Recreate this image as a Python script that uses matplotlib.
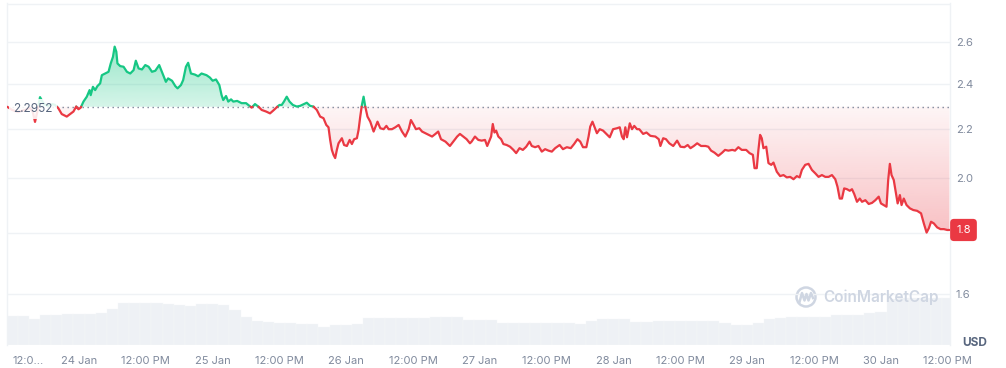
import numpy as np
import matplotlib
matplotlib.use("Agg")
import matplotlib.pyplot as plt
import matplotlib.transforms as mtransforms
import matplotlib.colors as mcolors
from matplotlib.path import Path
from matplotlib.patches import Circle
from matplotlib.lines import Line2D
from matplotlib.ticker import FixedLocator, NullLocator, NullFormatter, FixedFormatter

plt.rcParams['font.family'] = ['Inter', 'DejaVu Sans']

# ---- data: time in hours since 23 Jan 00:00, price in USD ----
hours = (
    [11.1, 12.0, 13.0, 14.3, 15.2, 15.7, 16.1, 16.5, 17.0, 17.7, 18.4, 19.2, 19.7]
    + [20.3, 20.9, 21.8, 22.4, 23.0, 23.5, 23.9, 24.3, 24.8, 25.4,
       25.9, 26.1, 26.5, 26.9, 27.3, 27.8, 28.1, 28.7, 29.3, 29.7,
       30.1, 30.4, 30.7, 30.9, 31.4, 32.0, 32.6, 33.2, 33.8, 34.2,
       34.7, 35.3, 35.9, 36.5, 37.1, 37.7, 38.4, 39.0, 39.6, 40.0]
    + [40.7, 41.3, 41.7, 42.3, 42.7, 43.2, 43.6, 44.1, 44.8, 45.4,
       46.0, 46.9, 47.5, 48.0, 48.6, 49.2, 49.6, 49.9, 50.4, 50.8,
       51.3, 51.7, 52.4, 53.2, 54.0, 54.4, 55.0, 55.6, 56.2, 56.8,
       57.6, 58.3, 59.0, 59.5, 60.0, 60.4, 60.8, 61.3, 61.8, 62.4,
       63.1, 63.7, 64.4, 64.9, 65.5, 66.1, 66.7, 67.3, 67.9, 68.4,
       68.8, 69.1, 69.4, 69.7, 70.0, 70.3, 70.6, 71.2, 71.6, 72.1,
       72.6, 73.0, 73.4, 73.9, 74.2, 74.5, 74.8, 75.1, 75.4, 75.8,
       76.3, 76.9, 77.6, 78.1, 78.7, 79.2, 79.6, 80.2, 80.8, 81.4,
       82.0, 82.6, 83.2, 83.6, 84.1, 84.5, 85.1, 85.6, 86.2, 86.8,
       87.4, 88.0, 88.5, 89.0, 89.8, 90.6, 91.2, 91.9, 92.4, 93.0,
       93.6, 94.2, 94.5, 95.1, 95.7, 96.3, 96.9, 97.3, 98.0, 98.3,
       98.6, 98.9, 99.3, 99.8, 100.2, 100.8, 101.4, 102.0, 102.5, 103.1,
       103.7, 104.3, 104.9, 105.3, 105.9, 106.5, 107.1, 107.7, 108.3, 108.9,
       109.5, 110.3, 110.9, 111.6, 112.3, 112.9, 113.5, 114.0, 114.5, 115.1,
       115.5, 115.8, 116.2, 116.6, 117.0, 117.5, 118.1, 118.7, 119.3, 119.9,
       120.6, 121.1, 121.5, 121.8, 122.1, 122.4, 122.9, 123.3, 123.7, 124.2,
       124.6, 125.3, 125.9, 126.6]
    + [127.5, 128.1, 128.4, 128.9, 129.4, 130.0, 130.7, 131.4, 132.0, 132.7,
       133.3, 133.8, 134.4, 135.0, 135.7, 136.5, 137.0, 137.5, 138.1, 138.8,
       139.5, 140.0, 140.6, 141.3, 141.8, 142.4, 143.0, 143.8, 144.4, 145.0,
       145.3, 145.7, 146.0, 146.3, 146.6, 146.9, 147.4, 147.8, 148.3, 148.7,
       149.3, 149.9, 150.5, 151.1, 151.7, 152.3, 152.9, 153.4, 153.8, 154.4,
       155.0, 155.6, 156.2, 156.8, 157.4, 158.0, 158.6, 159.2, 159.8, 160.2,
       160.6, 161.0, 161.4, 161.9, 162.4, 162.8, 163.2, 163.7, 164.2, 164.6,
       165.2, 165.8, 166.4, 167.0, 167.6, 168.0, 168.5, 169.0, 169.3, 169.6,
       169.9, 170.3, 170.7, 171.0, 171.4, 171.7, 172.1, 172.6, 173.2, 173.8,
       174.5, 175.2, 175.7, 176.2, 176.6, 177.0, 177.5, 178.1, 178.7, 179.3,
       179.9, 180.3]
)

price = (
    [2.295, 2.281, 2.272, 2.281, 2.290, 2.272, 2.229, 2.272, 2.338, 2.307, 2.299, 2.307, 2.303]
    + [2.288, 2.263, 2.252, 2.263, 2.274, 2.296, 2.284, 2.291, 2.318, 2.340,
       2.370, 2.347, 2.385, 2.370, 2.388, 2.401, 2.439, 2.447, 2.455, 2.495,
       2.527, 2.577, 2.552, 2.495, 2.482, 2.479, 2.455, 2.447, 2.463, 2.508,
       2.471, 2.466, 2.487, 2.479, 2.455, 2.460, 2.487, 2.447, 2.408, 2.424]
    + [2.413, 2.388, 2.378, 2.393, 2.416, 2.479, 2.498, 2.447, 2.442, 2.434,
       2.447, 2.439, 2.428, 2.413, 2.419, 2.393, 2.347, 2.325, 2.343, 2.318,
       2.328, 2.318, 2.321, 2.311, 2.311, 2.303, 2.291, 2.307, 2.296, 2.281,
       2.274, 2.266, 2.281, 2.293, 2.303, 2.303, 2.318, 2.340, 2.318, 2.303,
       2.296, 2.299, 2.307, 2.313, 2.299, 2.296, 2.281, 2.252, 2.245, 2.216,
       2.206, 2.153, 2.112, 2.092, 2.079, 2.112, 2.139, 2.160, 2.132, 2.128,
       2.153, 2.136, 2.156, 2.160, 2.195, 2.252, 2.303, 2.340, 2.296, 2.252,
       2.230, 2.188, 2.230, 2.202, 2.198, 2.212, 2.198, 2.198, 2.206, 2.216,
       2.188, 2.167, 2.198, 2.237, 2.216, 2.198, 2.202, 2.188, 2.181, 2.174,
       2.167, 2.178, 2.188, 2.156, 2.146, 2.128, 2.146, 2.167, 2.178, 2.167,
       2.156, 2.139, 2.146, 2.167, 2.153, 2.150, 2.153, 2.128, 2.167, 2.220,
       2.184, 2.192, 2.167, 2.156, 2.136, 2.132, 2.125, 2.112, 2.099, 2.119,
       2.112, 2.125, 2.146, 2.128, 2.123, 2.128, 2.105, 2.115, 2.109, 2.105,
       2.119, 2.132, 2.115, 2.123, 2.119, 2.136, 2.156, 2.146, 2.123, 2.123,
       2.167, 2.209, 2.230, 2.206, 2.181, 2.198, 2.192, 2.178, 2.164, 2.198,
       2.202, 2.206, 2.167, 2.156, 2.206, 2.164, 2.223, 2.198, 2.212, 2.198,
       2.198, 2.178, 2.184, 2.170]
    + [2.167, 2.156, 2.128, 2.160, 2.156, 2.139, 2.128, 2.150, 2.125, 2.123,
       2.132, 2.119, 2.128, 2.139, 2.128, 2.128, 2.125, 2.109, 2.101, 2.088,
       2.101, 2.112, 2.109, 2.112, 2.109, 2.123, 2.112, 2.112, 2.099, 2.092,
       2.039, 2.039, 2.112, 2.174, 2.160, 2.119, 2.125, 2.059, 2.052, 2.061,
       2.025, 2.008, 2.012, 2.003, 2.005, 1.996, 2.008, 2.003, 2.032, 2.052,
       2.056, 2.032, 2.019, 2.005, 2.012, 2.005, 2.005, 2.012, 1.996, 1.967,
       1.923, 1.923, 1.961, 1.958, 1.952, 1.958, 1.940, 1.911, 1.923, 1.911,
       1.917, 1.903, 1.907, 1.917, 1.930, 1.905, 1.899, 1.893, 1.993, 2.056,
       2.012, 1.993, 1.942, 1.905, 1.936, 1.899, 1.923, 1.899, 1.887, 1.881,
       1.878, 1.869, 1.833, 1.801, 1.816, 1.839, 1.833, 1.819, 1.813, 1.813,
       1.810, 1.810]
)

base_price = 2.2952
base_label = "2.2952"
last_label = "1.8"

# volume (relative units), one bar per 2 hours centred at these hours
vol_hours = list(range(12, 181, 2))
volume = [29, 29, 26, 30, 30, 31, 31, 31, 32, 36,
          42, 42, 42, 42, 41, 40, 39, 41, 41, 40,
          35, 28, 24, 23, 22, 22, 21, 21, 18, 20,
          20, 21, 27, 27, 27, 27, 27, 27, 28, 28,
          28, 25, 25, 25, 22, 22, 22, 22, 22, 22,
          22, 21, 24, 26, 26, 26, 23, 23, 24, 24,
          24, 24, 24, 24, 22, 20, 20, 22, 26, 27,
          28, 28, 28, 28, 30, 30, 30, 32, 33, 46,
          47, 47, 47, 47, 47]

xtick_hours = [12, 24, 36, 48, 60, 72, 84, 96, 108, 120, 132, 144, 156, 168, 180]
xtick_labels = ["12:0...", "24 Jan", "12:00 PM", "25 Jan", "12:00 PM", "26 Jan",
                "12:00 PM", "27 Jan", "12:00 PM", "28 Jan", "12:00 PM", "29 Jan",
                "12:00 PM", "30 Jan", "12:00 PM"]
ytick_values = [1.6, 1.8, 2.0, 2.2, 2.4, 2.6, 2.8]
ytick_labels = ["1.6", "", "2.0", "2.2", "2.4", "2.6", ""]

assert len(hours) == len(price)
assert len(vol_hours) == len(volume)

GREEN = "#16c784"
RED = "#ea3943"
GRID = "#eff2f5"
TICK = "#808a9d"

W, H = 1006, 368
fig = plt.figure(figsize=(W / 100, H / 100), dpi=100)
rect = [7 / W, 23 / H, 943 / W, 342 / H]
vax = fig.add_axes(rect, zorder=0)
ax = fig.add_axes(rect, zorder=1)
ax.patch.set_alpha(0)

xlim = (11.07, 180.4)
ylim = (1.4502, 2.803)

# volume bars
vax.bar(vol_hours, volume, width=2.0, color="#eef1f5", edgecolor="#f7f8fa", linewidth=0.25)
vax.set_xlim(xlim)
vax.set_ylim(0, max(volume) * 342 / 47)
vax.axis("off")

ax.set_yscale("log")
ax.set_xlim(xlim)
ax.set_ylim(ylim)
ax.set_autoscale_on(False)

# insert baseline crossings
t = np.asarray(hours, float)
p = np.asarray(price, float)
tt, pp = [t[0]], [p[0]]
for i in range(1, len(t)):
    a, b = p[i - 1] - base_price, p[i] - base_price
    if a * b < 0:
        f = a / (a - b)
        tt.append(t[i - 1] + f * (t[i] - t[i - 1]))
        pp.append(base_price)
    tt.append(t[i])
    pp.append(p[i])
tt = np.array(tt)
pp = np.array(pp)
up = np.where(pp >= base_price, pp, np.nan)
dn = np.where(pp <= base_price, pp, np.nan)

# gradient fills
lo, hi = np.log(ylim[0]), np.log(ylim[1])
def frac(v):
    return (np.log(v) - lo) / (hi - lo)
fb = frac(base_price)
fy = np.linspace(0, 1, 800)[:, None]
g_alpha = np.clip(0.18 + 0.25 * (fy - fb) / (frac(2.58) - fb), 0, 0.5)
r_alpha = np.clip(0.05 + 0.26 * (fb - fy) / (fb - frac(1.81)), 0, 0.5)

def grad_img(color, alpha):
    img = np.zeros((alpha.shape[0], 1, 4))
    img[..., :3] = mcolors.to_rgb(color)
    img[..., 3] = alpha
    return img

for mask, color, alpha in [(pp >= base_price, GREEN, g_alpha), (pp <= base_price, RED, r_alpha)]:
    coll = ax.fill_between(tt, pp, base_price, where=mask, lw=0, alpha=0)
    paths = coll.get_paths()
    coll.remove()
    if not paths:
        continue
    comp = Path.make_compound_path(*paths)
    im = ax.imshow(grad_img(color, alpha), extent=[0, 1, 0, 1], transform=ax.transAxes,
                   origin="lower", aspect="auto", interpolation="bilinear", zorder=1)
    im.set_clip_path(comp, ax.transData)

ax.set_xlim(xlim)
ax.set_ylim(ylim)

ax.plot(tt, up, color=GREEN, lw=1.6, zorder=3, solid_joinstyle="round", solid_capstyle="round")
ax.plot(tt, dn, color=RED, lw=1.6, zorder=3, solid_joinstyle="round", solid_capstyle="round")
ax.axhline(base_price, color="#7d879a", lw=1.0, ls=(0, (1, 2.6)), zorder=2)

# axes styling
ax.yaxis.set_major_locator(FixedLocator(ytick_values))
ax.yaxis.set_major_formatter(FixedFormatter(ytick_labels))
ax.yaxis.set_minor_locator(NullLocator())
ax.yaxis.set_minor_formatter(NullFormatter())
ax.yaxis.tick_right()
ax.grid(axis="y", color=GRID, lw=1)
ax.set_axisbelow(True)
ax.tick_params(axis="y", length=0, pad=4.3, labelsize=8, labelcolor=TICK)
ax.set_xticks(xtick_hours)
ax.set_xticklabels(xtick_labels)
ax.tick_params(axis="x", length=0, pad=8, labelsize=8, labelcolor=TICK)
ax.get_xticklabels()[0].set_ha("left")
for s in ["top", "bottom"]:
    ax.spines[s].set_visible(False)
for s in ["left", "right"]:
    ax.spines[s].set_color(GRID)
    ax.spines[s].set_linewidth(1)

blend = mtransforms.blended_transform_factory(ax.transAxes, ax.transData)
ax.annotate(base_label, xy=(0, base_price), xycoords=blend, xytext=(4.5, -1.5),
            textcoords="offset points", ha="left", va="center", fontsize=8.5, color="#58667e",
            bbox=dict(boxstyle="square,pad=0.32", fc="white", ec="none", alpha=0.88), zorder=5)
ax.annotate(last_label, xy=(1, price[-1]), xycoords=blend, xytext=(4.5, 0),
            textcoords="offset points", ha="left", va="center", fontsize=8, color="white",
            bbox=dict(boxstyle="round,pad=0.55,rounding_size=0.35", fc=RED, ec="none"),
            zorder=6, annotation_clip=False)

fig.text(975 / W, 1 - 343 / H, "USD", ha="center", va="center", fontsize=8.5,
         fontweight="bold", color="#58667e")

# watermark
WM = "#cfd6e2"
fig.text(823 / W, 1 - 297 / H, "CoinMarketCap", fontsize=11, fontweight="semibold",
         color=WM, ha="left", va="center")
ident = mtransforms.IdentityTransform()
fig.add_artist(Circle((806, 71), 9.5, transform=ident, fill=False, ec=WM, lw=1.8))
fig.add_artist(Line2D([799.5, 802, 804.5, 806.5, 808.5, 811, 813],
                      [66, 75, 67.5, 74, 67.5, 75, 70], transform=ident, color=WM, lw=1.8))

fig.savefig("out.png", dpi=100)
